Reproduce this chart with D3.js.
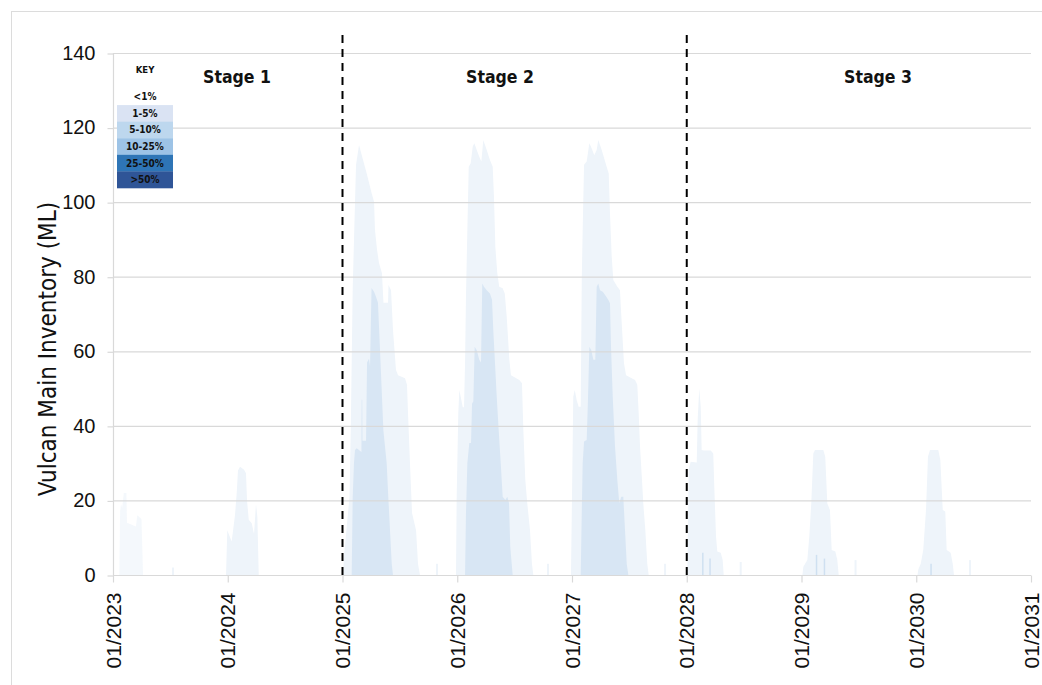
<!DOCTYPE html>
<html><head><meta charset="utf-8">
<script src="https://cdn.jsdelivr.net/npm/d3@7"></script>
<style>body{margin:0;background:#fff}svg{display:block}</style>
</head><body><svg id="c" width="1042" height="685"></svg>
<script>
// ---------- DATA (time as decimal year, inventory in ML) ----------
const xTickYears = [2023, 2024, 2025, 2026, 2027, 2028, 2029, 2030, 2031];
const xTickLabels = ["01/2023","01/2024","01/2025","01/2026","01/2027","01/2028","01/2029","01/2030","01/2031"];
const yTicks = [0, 20, 40, 60, 80, 100, 120, 140];
const yTitle = "Vulcan Main Inventory (ML)";

const stageLabels = ["Stage 1", "Stage 2", "Stage 3"];
const stageCentres = [2024.081, 2026.373, 2029.667];
const stageBoundaries = [2025, 2028];

const keyTitle = "KEY";
const keyLabels = ["<1%", "1-5%", "5-10%", "10-25%", "25-50%", ">50%"];
const keyColors = ["none", "#dae3f3", "#bdd7ee", "#9dc3e6", "#2e75b6", "#2f5597"];

// outer (<1%) probability envelope, segments of [year, ML]
const outer2023 = [[2023.055,0],[2023.062,17],[2023.070,19],[2023.080,18],[2023.094,22],[2023.117,22],[2023.122,14],[2023.200,13],[2023.212,16],[2023.248,15],[2023.262,0]];
const outer2024 = [[2023.985,0],[2023.996,12],[2024.034,9],[2024.063,16],[2024.078,22],[2024.089,28],[2024.107,29],[2024.142,28.2],[2024.159,27.3],[2024.168,20],[2024.183,14.8],[2024.209,13.9],[2024.229,11],[2024.246,19],[2024.258,15.6],[2024.270,0]];
const outer2025 = [[2025.004,0],[2025.013,5],[2025.061,21],[2025.072,39],[2025.089,77],[2025.109,100],[2025.118,110],[2025.144,115.3],[2025.179,111.3],[2025.211,107.7],[2025.254,102.4],[2025.275,100.1],[2025.283,92.5],[2025.301,87.2],[2025.318,83.7],[2025.344,80.9],[2025.357,73],[2025.397,73],[2025.401,77.8],[2025.423,76.4],[2025.440,65.7],[2025.466,55],[2025.484,53.6],[2025.545,52.8],[2025.562,51],[2025.571,43.4],[2025.588,30],[2025.606,16.6],[2025.641,12],[2025.658,3],[2025.675,0]];
const outer2026 = [[2025.989,0],[2025.995,21],[2026.009,43.4],[2026.018,49.6],[2026.030,47.8],[2026.048,45],[2026.059,45],[2026.068,56.8],[2026.076,74.6],[2026.088,92.5],[2026.100,109.5],[2026.117,110.4],[2026.135,114.9],[2026.149,115.8],[2026.170,114],[2026.192,112.2],[2026.210,110.9],[2026.227,116.7],[2026.257,114],[2026.285,111.3],[2026.309,109.5],[2026.320,101.5],[2026.332,88],[2026.349,80.9],[2026.366,77.3],[2026.396,76.9],[2026.414,75.5],[2026.431,69.3],[2026.454,57.7],[2026.468,53.6],[2026.541,52.3],[2026.564,51.4],[2026.576,38.9],[2026.593,25.5],[2026.610,19.3],[2026.634,12],[2026.651,3],[2026.663,0]];
const outer2027 = [[2026.991,0],[2027.000,21],[2027.011,47.8],[2027.024,49.6],[2027.041,46.9],[2027.058,45.1],[2027.076,45.1],[2027.085,79.1],[2027.093,92.5],[2027.105,110],[2027.128,110.9],[2027.151,115.8],[2027.172,114.4],[2027.194,112.6],[2027.215,114],[2027.229,116.7],[2027.259,114],[2027.302,109.5],[2027.320,107.7],[2027.331,97],[2027.346,85.4],[2027.360,79.1],[2027.395,77.3],[2027.418,76.4],[2027.430,69.3],[2027.453,56.8],[2027.471,53.6],[2027.549,52.3],[2027.569,51],[2027.581,43.4],[2027.593,34.4],[2027.610,25.5],[2027.621,19.3],[2027.639,12],[2027.656,3],[2027.668,0]];
const outer2028 = [[2028.005,0],[2028.017,28.2],[2028.034,30.4],[2028.087,30.2],[2028.095,41.6],[2028.109,50],[2028.122,45],[2028.130,33.5],[2028.150,33.4],[2028.209,33.4],[2028.231,32.6],[2028.240,23.7],[2028.255,10.3],[2028.266,6.3],[2028.296,6],[2028.313,4],[2028.322,0]];
const outer2029 = [[2029.008,0],[2029.016,2.2],[2029.051,4],[2029.068,10.3],[2029.085,19.2],[2029.103,32.6],[2029.118,33.5],[2029.190,33.5],[2029.207,31.7],[2029.225,19.2],[2029.248,17.4],[2029.263,6.7],[2029.295,6.3],[2029.312,4],[2029.324,0]];
const outer2030 = [[2030.011,0],[2030.018,1.5],[2030.039,3],[2030.061,6.7],[2030.085,17.4],[2030.102,31.7],[2030.120,33.5],[2030.192,33.5],[2030.210,30.8],[2030.231,17.4],[2030.253,17],[2030.265,6.7],[2030.300,6],[2030.318,3],[2030.329,0]];

// inner (1-5%) probability envelope
const inner2025 = [[2025.080,0],[2025.089,21],[2025.100,30],[2025.109,33.5],[2025.124,34],[2025.165,33],[2025.167,47],[2025.172,47],[2025.174,36],[2025.205,36],[2025.214,57],[2025.231,58],[2025.240,56],[2025.253,77],[2025.275,76],[2025.292,74.6],[2025.309,73],[2025.327,60.3],[2025.344,47.8],[2025.356,38.9],[2025.385,30],[2025.399,21],[2025.414,12],[2025.429,3],[2025.440,0]];
const inner2026 = [[2026.068,0],[2026.076,16.6],[2026.088,30],[2026.105,35.4],[2026.120,35.4],[2026.129,46],[2026.140,46.5],[2026.152,61.2],[2026.170,60.3],[2026.192,57.7],[2026.207,57],[2026.218,78.2],[2026.233,77.3],[2026.257,76.4],[2026.285,75.5],[2026.303,73.8],[2026.314,65.7],[2026.329,56.8],[2026.344,47.8],[2026.361,38.9],[2026.379,30],[2026.396,21],[2026.419,20.1],[2026.436,21],[2026.451,19.3],[2026.462,7.6],[2026.483,0]];
const inner2027 = [[2027.076,0],[2027.085,16.6],[2027.093,30],[2027.105,35.8],[2027.128,36.2],[2027.139,46.9],[2027.151,61.2],[2027.168,60.3],[2027.186,57.7],[2027.203,57.7],[2027.215,77.3],[2027.229,78.2],[2027.244,76.4],[2027.268,76],[2027.288,75.1],[2027.316,73.8],[2027.331,72.9],[2027.340,61.2],[2027.355,47.8],[2027.375,34.4],[2027.395,25.5],[2027.412,19.3],[2027.430,21],[2027.447,21],[2027.462,12],[2027.477,3],[2027.491,0]];

// isolated thin spikes [year, ML]
const outerSpikes = [[2023.523,2],[2025.824,3],[2026.791,3],[2027.811,3],[2028.470,3.5],[2029.471,4],[2030.468,4]];
const innerSpikes = [[2028.140,6],[2028.203,4.4],[2029.131,5.4],[2029.200,4.4],[2030.129,3]];

const outerSegments = [outer2023, outer2024, outer2025, outer2026, outer2027, outer2028, outer2029, outer2030];
const innerSegments = [inner2025, inner2026, inner2027];

// ---------- DRAW ----------
const W = 1042, H = 685;
const L = 113, R = 1031, T = 53, B = 575;
const outerColor = "#eef4fa", innerColor = "#d8e6f4", gridColor = "#d9d9d9";

const svg = d3.select("#c");
svg.append("rect").attr("width", W).attr("height", H).attr("fill", "#fff");
svg.append("rect").attr("x", 11.5).attr("y", 11.5).attr("width", 1040).attr("height", 700)
  .attr("fill", "none").attr("stroke", "#dcdcdc");

const x = d3.scaleLinear().domain([2023, 2031]).range([L, R]);
const y = d3.scaleLinear().domain([0, 140]).range([B, T]);

const area = d3.area().x(d => x(d[0])).y0(y(0)).y1(d => y(d[1]));

const gArea = svg.append("g");
gArea.selectAll("path.outer").data(outerSegments).join("path")
  .attr("class", "outer").attr("d", area).attr("fill", outerColor)
  .attr("opacity", (d, i) => i === 0 ? 0.65 : 1);
gArea.selectAll("line.os").data(outerSpikes).join("line").attr("class", "os")
  .attr("x1", d => x(d[0])).attr("x2", d => x(d[0]))
  .attr("y1", y(0)).attr("y2", d => y(d[1]))
  .attr("stroke", outerColor).attr("stroke-width", 2);
gArea.selectAll("path.inner").data(innerSegments).join("path")
  .attr("class", "inner").attr("d", area).attr("fill", innerColor);
gArea.selectAll("line.is").data(innerSpikes).join("line").attr("class", "is")
  .attr("x1", d => x(d[0])).attr("x2", d => x(d[0]))
  .attr("y1", y(0)).attr("y2", d => y(d[1]))
  .attr("stroke", "#cfe0f1").attr("stroke-width", 1.5);

// gridlines
svg.append("g").selectAll("line").data(yTicks).join("line")
  .attr("x1", L).attr("x2", R).attr("y1", d => y(d) + 0.5).attr("y2", d => y(d) + 0.5)
  .attr("stroke", gridColor).attr("stroke-width", 1.2);

// y axis
const gy = svg.append("g").attr("transform", `translate(${L + 0.5},0)`)
  .call(d3.axisLeft(y).tickValues(yTicks).tickSize(6).tickPadding(12).tickFormat(d3.format("d")));
gy.select(".domain").attr("stroke", gridColor).attr("stroke-width", 1.2).attr("d", `M0,${T}V${B}`);
gy.selectAll(".tick line").attr("stroke", gridColor).attr("stroke-width", 1.2).attr("transform", "translate(0,0.5)");
gy.selectAll(".tick text").attr("font-family", "'Liberation Sans', Arial, sans-serif")
  .attr("font-size", 20).attr("fill", "#111");

// x axis
const gx = svg.append("g").attr("transform", `translate(0,${B + 0.5})`)
  .call(d3.axisBottom(x).tickValues(xTickYears).tickSize(7).tickFormat((d, i) => xTickLabels[i]));
gx.select(".domain").remove();
gx.selectAll(".tick line").attr("stroke", gridColor).attr("stroke-width", 1.2);
gx.selectAll(".tick text")
  .attr("font-family", "'Liberation Sans', Arial, sans-serif").attr("font-size", 21).attr("fill", "#111")
  .attr("transform", "rotate(-90)").attr("text-anchor", "end")
  .attr("x", -17).attr("y", 0).attr("dy", "0.34em");

// y title
svg.append("text").attr("transform", "translate(48,349) rotate(-90)")
  .attr("text-anchor", "middle").attr("dy", "0.35em")
  .attr("font-family", "'DejaVu Sans Condensed', 'DejaVu Sans', sans-serif").attr("font-size", 24)
  .attr("fill", "#111").text(yTitle);

// stage dividers
svg.append("g").selectAll("line").data(stageBoundaries).join("line")
  .attr("x1", d => x(d)).attr("x2", d => x(d)).attr("y1", 35).attr("y2", B)
  .attr("stroke", "#000").attr("stroke-width", 2).attr("stroke-dasharray", "8,6");

// stage labels
svg.append("g").selectAll("text").data(stageLabels).join("text")
  .attr("x", (d, i) => x(stageCentres[i])).attr("y", 83)
  .attr("text-anchor", "middle")
  .attr("font-family", "'DejaVu Sans Condensed', 'DejaVu Sans', sans-serif")
  .attr("font-weight", "bold").attr("font-size", 17.5).attr("fill", "#111")
  .text(d => d);

// key
const kx0 = 117, kx1 = 173;
const ky = d3.scaleBand().domain(keyLabels).range([88.5, 188]);
const gk = svg.append("g");
gk.append("text").attr("x", (kx0 + kx1) / 2).attr("y", 70).attr("dy", "0.35em")
  .attr("text-anchor", "middle").attr("font-family", "'DejaVu Sans Condensed', 'DejaVu Sans', sans-serif")
  .attr("font-weight", "bold").attr("font-size", 9.5).attr("fill", "#111").text(keyTitle);
gk.selectAll("rect").data(keyLabels).join("rect")
  .attr("x", kx0).attr("width", kx1 - kx0)
  .attr("y", d => ky(d)).attr("height", ky.bandwidth() + 0.3)
  .attr("fill", (d, i) => keyColors[i]);
gk.selectAll("text.kl").data(keyLabels).join("text").attr("class", "kl")
  .attr("x", (kx0 + kx1) / 2).attr("y", d => ky(d) + ky.bandwidth() / 2).attr("dy", "0.35em")
  .attr("text-anchor", "middle").attr("font-family", "'DejaVu Sans Condensed', 'DejaVu Sans', sans-serif")
  .attr("font-weight", "bold").attr("font-size", 10).attr("fill", "#111").text(d => d);
</script>
</body></html>
